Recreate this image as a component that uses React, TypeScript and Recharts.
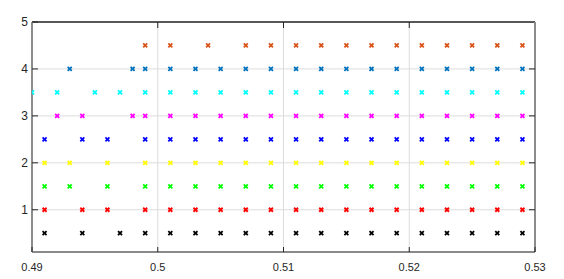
import React from 'react'
import {
  ScatterChart,
  Scatter,
  XAxis,
  YAxis,
  CartesianGrid,
  usePlotArea,
} from 'recharts'

const X_TICKS = [0.49, 0.5, 0.51, 0.52, 0.53]
const Y_TICKS = [1, 2, 3, 4, 5]
const X_MIN = 0.49
const X_MAX = 0.53
const Y_MIN = 0.1
const Y_MAX = 5

// x positions of each row of markers
const ORANGE_X = [0.499, 0.501, 0.504, 0.507, 0.509, 0.511, 0.513, 0.515, 0.517, 0.519, 0.521, 0.523, 0.525, 0.527, 0.529]
const STEEL_X = [0.493, 0.498, 0.499, 0.501, 0.503, 0.505, 0.507, 0.509, 0.511, 0.513, 0.515, 0.517, 0.519, 0.521, 0.523, 0.525, 0.527, 0.529]
const CYAN_X = [0.49, 0.492, 0.495, 0.497, 0.499, 0.501, 0.503, 0.505, 0.507, 0.509, 0.511, 0.513, 0.515, 0.517, 0.519, 0.521, 0.523, 0.525, 0.527, 0.529]
const MAGENTA_X = [0.492, 0.494, 0.498, 0.499, 0.501, 0.503, 0.505, 0.507, 0.509, 0.511, 0.513, 0.515, 0.517, 0.519, 0.521, 0.523, 0.525, 0.527, 0.529]
const BLUE_X = [0.491, 0.494, 0.496, 0.499, 0.501, 0.503, 0.505, 0.507, 0.509, 0.511, 0.513, 0.515, 0.517, 0.519, 0.521, 0.523, 0.525, 0.527, 0.529]
const YELLOW_X = [0.491, 0.493, 0.496, 0.499, 0.501, 0.503, 0.505, 0.507, 0.509, 0.511, 0.513, 0.515, 0.517, 0.519, 0.521, 0.523, 0.525, 0.527, 0.529]
const GREEN_X = [0.491, 0.493, 0.496, 0.499, 0.501, 0.503, 0.505, 0.507, 0.509, 0.511, 0.513, 0.515, 0.517, 0.519, 0.521, 0.523, 0.525, 0.527, 0.529]
const RED_X = [0.491, 0.494, 0.496, 0.499, 0.501, 0.503, 0.505, 0.507, 0.509, 0.511, 0.513, 0.515, 0.517, 0.519, 0.521, 0.523, 0.525, 0.527, 0.529]
const BLACK_X = [0.491, 0.494, 0.497, 0.499, 0.501, 0.503, 0.505, 0.507, 0.509, 0.511, 0.513, 0.515, 0.517, 0.519, 0.521, 0.523, 0.525, 0.527, 0.529]

const SERIES = [
  { name: 'orange', y: 4.5, xs: ORANGE_X, color: '#D95319' },
  { name: 'steel', y: 4, xs: STEEL_X, color: '#0072BD' },
  { name: 'cyan', y: 3.5, xs: CYAN_X, color: '#00FFFF' },
  { name: 'magenta', y: 3, xs: MAGENTA_X, color: '#FF00FF' },
  { name: 'blue', y: 2.5, xs: BLUE_X, color: '#0000FF' },
  { name: 'yellow', y: 2, xs: YELLOW_X, color: '#FFFF00' },
  { name: 'green', y: 1.5, xs: GREEN_X, color: '#00FF00' },
  { name: 'red', y: 1, xs: RED_X, color: '#FF0000' },
  { name: 'black', y: 0.5, xs: BLACK_X, color: '#000000' },
]

const FONT = '"Liberation Sans", Arial, sans-serif'
const LABEL = '#262626'
const FRAME_GRAY = '#8c8c8c'

const cross = (color: string) => (props: any) => {
  const { cx, cy } = props
  const s = 2
  return (
    <g stroke={color} strokeWidth={1.8}>
      <line x1={cx - s} y1={cy - s} x2={cx + s} y2={cy + s} />
      <line x1={cx - s} y1={cy + s} x2={cx + s} y2={cy - s} />
    </g>
  )
}

const fmtX = (v: number) => String(Number(v.toFixed(2)))

const BottomTick = (props: any) => {
  const { x, y, payload } = props
  return (
    <g>
      <line x1={x} y1={y} x2={x} y2={y - 5} stroke={LABEL} />
      <text x={x} y={y + 19} textAnchor="middle" fontSize={11} fontFamily={FONT} fill={LABEL}>
        {fmtX(payload.value)}
      </text>
    </g>
  )
}

const LeftTick = (props: any) => {
  const { x, y, payload } = props
  return (
    <g>
      <line x1={x} y1={y} x2={x + 6} y2={y} stroke={LABEL} />
      <text x={x - 4} y={y + 4} textAnchor="end" fontSize={12} fontFamily={FONT} fill={LABEL}>
        {payload.value}
      </text>
    </g>
  )
}

// top and right edges of the box, with inward ticks
function Frame() {
  const area = usePlotArea()
  if (!area) return null
  const { x, y, width, height } = area
  const px = (v: number) => x + ((v - X_MIN) / (X_MAX - X_MIN)) * width
  const py = (v: number) => y + height - ((v - Y_MIN) / (Y_MAX - Y_MIN)) * height
  const right = x + width
  return (
    <g>
      <line x1={x} y1={y} x2={right} y2={y} stroke={LABEL} strokeWidth={1.5} />
      <line x1={right} y1={y} x2={right} y2={y + height} stroke={FRAME_GRAY} strokeWidth={2} />
      {X_TICKS.slice(1, -1).map(t => (
        <line key={`tx${t}`} x1={px(t)} y1={y} x2={px(t)} y2={y + 6} stroke={LABEL} />
      ))}
      {Y_TICKS.slice(0, -1).map(t => (
        <line key={`ty${t}`} x1={right} y1={py(t)} x2={right - 6} y2={py(t)} stroke={LABEL} />
      ))}
    </g>
  )
}

export default function App() {
  return (
    <div style={{ position: 'absolute', left: 0, top: 0, background: '#fff' }}>
      <ScatterChart width={564} height={279} margin={{ top: 22, right: 29, bottom: 0, left: 0 }}>
        <CartesianGrid stroke="#dcdcdc" strokeDasharray="" />
        <XAxis
          dataKey="x"
          type="number"
          domain={[X_MIN, X_MAX]}
          ticks={X_TICKS}
          height={27}
          tickSize={0}
          tickMargin={0}
          tickLine={false}
          tick={<BottomTick />}
          axisLine={{ stroke: LABEL }}
          allowDataOverflow
        />
        <YAxis
          dataKey="y"
          type="number"
          domain={[Y_MIN, Y_MAX]}
          ticks={Y_TICKS}
          width={32}
          tickSize={0}
          tickMargin={0}
          tickLine={false}
          tick={<LeftTick />}
          axisLine={{ stroke: FRAME_GRAY, strokeWidth: 2 }}
          allowDataOverflow
        />
        <Frame />
        {SERIES.map(s => (
          <Scatter
            key={s.name}
            name={s.name}
            data={s.xs.map(x => ({ x, y: s.y }))}
            fill={s.color}
            shape={cross(s.color)}
            isAnimationActive={false}
          />
        ))}
      </ScatterChart>
    </div>
  )
}
